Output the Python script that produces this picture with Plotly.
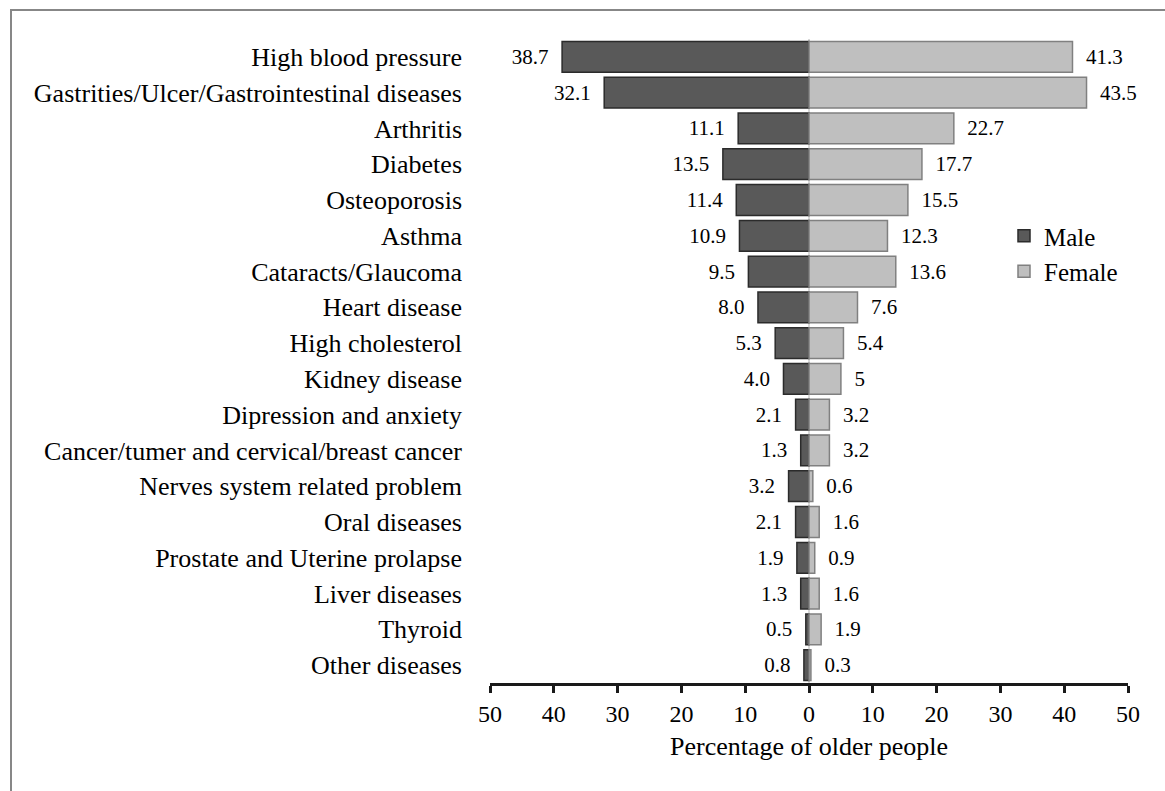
import plotly.graph_objects as go

categories = [
    "High blood pressure",
    "Gastrities/Ulcer/Gastrointestinal diseases",
    "Arthritis",
    "Diabetes",
    "Osteoporosis",
    "Asthma",
    "Cataracts/Glaucoma",
    "Heart disease",
    "High cholesterol",
    "Kidney disease",
    "Dipression and anxiety",
    "Cancer/tumer and cervical/breast cancer",
    "Nerves system related problem",
    "Oral diseases",
    "Prostate and Uterine prolapse",
    "Liver diseases",
    "Thyroid",
    "Other diseases",
]
male = [38.7, 32.1, 11.1, 13.5, 11.4, 10.9, 9.5, 8.0, 5.3, 4.0, 2.1, 1.3, 3.2, 2.1, 1.9, 1.3, 0.5, 0.8]
female = [41.3, 43.5, 22.7, 17.7, 15.5, 12.3, 13.6, 7.6, 5.4, 5, 3.2, 3.2, 0.6, 1.6, 0.9, 1.6, 1.9, 0.3]
male_labels = ["38.7", "32.1", "11.1", "13.5", "11.4", "10.9", "9.5", "8.0", "5.3", "4.0",
               "2.1", "1.3", "3.2", "2.1", "1.9", "1.3", "0.5", "0.8"]
female_labels = ["41.3", "43.5", "22.7", "17.7", "15.5", "12.3", "13.6", "7.6", "5.4", "5",
                 "3.2", "3.2", "0.6", "1.6", "0.9", "1.6", "1.9", "0.3"]
tick_vals = [-50, -40, -30, -20, -10, 0, 10, 20, 30, 40, 50]
tick_text = ["50", "40", "30", "20", "10", "0", "10", "20", "30", "40", "50"]

FONT = "Liberation Serif, Times, serif"
W, H = 1165, 791
L, R, T, B = 490, 37, 39, 108
PW, PH = W - L - R, H - T - B

pad = "\u00a0\u00a0"

fig = go.Figure()
fig.add_trace(go.Bar(
    y=categories, x=[-v for v in male], orientation="h", name="Male",
    marker=dict(color="#595959", line=dict(color="#2b2b2b", width=1.5)),
    text=[t + pad for t in male_labels], textposition="outside",
    textfont=dict(family=FONT, size=21, color="black"),
    constraintext="none", cliponaxis=False, hoverinfo="skip",
))
fig.add_trace(go.Bar(
    y=categories, x=female, orientation="h", name="Female",
    marker=dict(color="#bfbfbf", line=dict(color="#808080", width=1.5)),
    text=[pad + t for t in female_labels], textposition="outside",
    textfont=dict(family=FONT, size=21, color="black"),
    constraintext="none", cliponaxis=False, hoverinfo="skip",
))


def px_x(px):
    return (px - L) / PW


def px_y(py):
    return (H - B - py) / PH


fig.add_shape(type="line", xref="paper", yref="paper",
              x0=px_x(10), x1=px_x(1175), y0=px_y(10), y1=px_y(10),
              line=dict(color="#878787", width=2))
fig.add_shape(type="line", xref="paper", yref="paper",
              x0=px_x(11), x1=px_x(11), y0=px_y(9), y1=px_y(800),
              line=dict(color="#878787", width=2))

fig.update_layout(
    width=W, height=H,
    margin=dict(l=L, r=R, t=T, b=B),
    paper_bgcolor="white", plot_bgcolor="white",
    barmode="relative", bargap=0.14,
    font=dict(family=FONT, color="black"),
    showlegend=True,
    legend=dict(x=px_x(1004), y=px_y(213), xanchor="left", yanchor="top",
                font=dict(family=FONT, size=25, color="black"),
                bgcolor="rgba(0,0,0,0)", tracegroupgap=0),
    xaxis=dict(
        range=[-50, 50], tickvals=tick_vals, ticktext=tick_text,
        showgrid=False, zeroline=True, zerolinecolor="#d9d9d9", zerolinewidth=2,
        showline=True, linecolor="#1a1a1a", linewidth=2.5,
        ticks="outside", ticklen=7, tickwidth=2.5, tickcolor="#1a1a1a",
        tickfont=dict(family=FONT, size=24, color="black"),
        title=dict(text="Percentage of older people", standoff=12,
                   font=dict(family=FONT, size=26, color="black")),
        layer="above traces",
    ),
    yaxis=dict(
        type="category", autorange="reversed",
        showgrid=False, zeroline=False, showline=False, ticks="",
        tickfont=dict(family=FONT, size=26, color="black"),
        ticklabelstandoff=27,
    ),
)

fig.write_html("out.html")
